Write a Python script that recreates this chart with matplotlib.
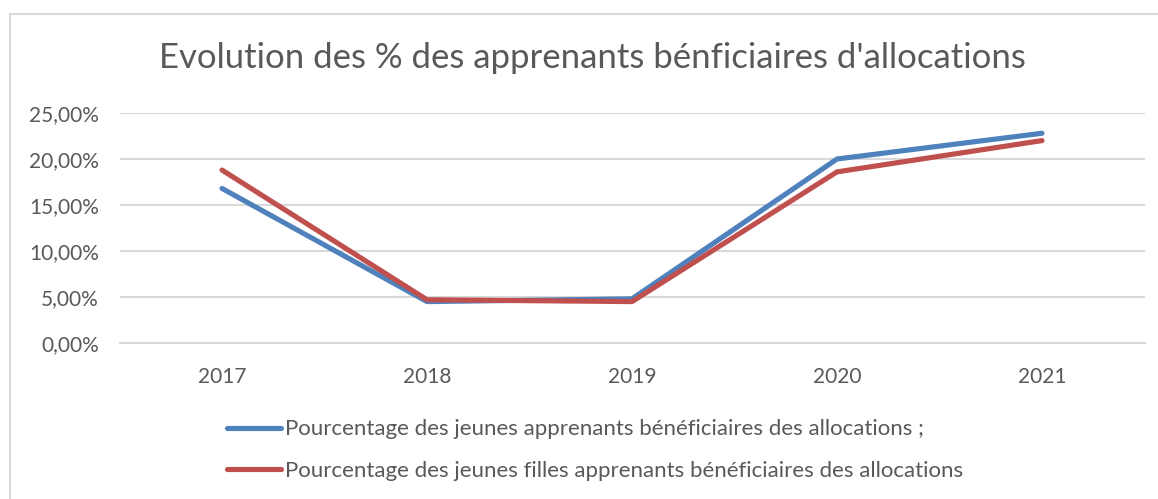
import matplotlib
matplotlib.use('Agg')
import matplotlib.pyplot as plt
from matplotlib.patches import Rectangle
from matplotlib.ticker import FuncFormatter

# Data
years = ['2017', '2018', '2019', '2020', '2021']
jeunes = [0.168, 0.045, 0.048, 0.200, 0.228]
filles = [0.188, 0.047, 0.045, 0.186, 0.220]

labels = ['Pourcentage des jeunes apprenants bénéficiaires des allocations ;',
          'Pourcentage des jeunes filles apprenants bénéficiaires des allocations']
title = "Evolution des % des apprenants bénficiaires d'allocations"

plt.rcParams['font.family'] = ['Lato', 'DejaVu Sans']
text_color = '#595959'
grid_color = '#d9d9d9'

W, H = 1158, 499
fig = plt.figure(figsize=(W / 100, H / 100), dpi=100)

# chart border
fig.patches.append(Rectangle((10 / W, -0.05), 1.2, 1 - 14 / H + 0.05, transform=fig.transFigure,
                             fill=False, edgecolor=grid_color, linewidth=1.5))

ax = fig.add_axes([119.5 / W, 1 - 343 / H, (1144.5 - 119.5) / W, (343 - 113) / H])
x = range(len(years))
ax.plot(x, jeunes, color='#4f81bd', linewidth=3.7, solid_capstyle='round', label=labels[0])
ax.plot(x, filles, color='#c0504d', linewidth=3.7, solid_capstyle='round', label=labels[1])

ax.set_xlim(-0.5, len(years) - 0.5)
ax.set_ylim(0, 0.25)
ax.set_yticks([0, 0.05, 0.10, 0.15, 0.20, 0.25])
ax.yaxis.set_major_formatter(FuncFormatter(lambda v, p: ('%.2f%%' % (v * 100)).replace('.', ',')))
ax.set_xticks(list(x))
ax.set_xticklabels(years)
ax.grid(axis='y', color=grid_color, linewidth=1.5)
ax.set_axisbelow(True)
for s in ['top', 'right', 'left']:
    ax.spines[s].set_visible(False)
ax.spines['bottom'].set_color(grid_color)
ax.spines['bottom'].set_linewidth(1.5)
ax.tick_params(axis='y', length=0, pad=15, labelsize=15, labelcolor=text_color)
ax.tick_params(axis='x', length=0, pad=17, labelsize=15, labelcolor=text_color)

fig.text(592 / W, 1 - 58 / H, title, ha='center', va='center', fontsize=25, color=text_color)

leg = fig.legend(loc='center left', bbox_to_anchor=(227 / W, 1 - 450 / H), frameon=False,
                 fontsize=16, handlelength=2.45, handletextpad=0.18, labelspacing=0.95,
                 borderpad=0, borderaxespad=0)
for t in leg.get_texts():
    t.set_color(text_color)

fig.savefig('out.png', dpi=100)
